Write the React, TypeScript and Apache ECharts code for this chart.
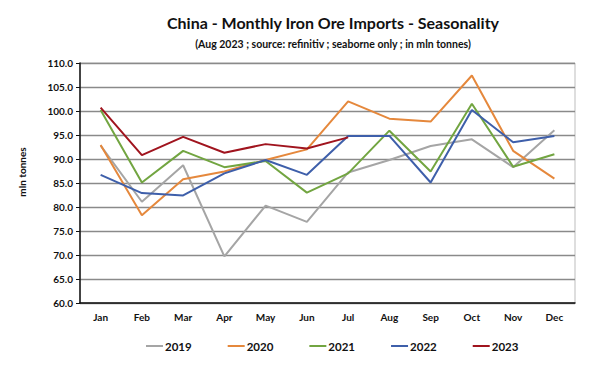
import React, { useEffect, useRef } from "react";
import * as echarts from "echarts";

const months = ["Jan", "Feb", "Mar", "Apr", "May", "Jun", "Jul", "Aug", "Sep", "Oct", "Nov", "Dec"];
const y2019 = [92.8, 81.1, 88.7, 69.7, 80.3, 76.9, 87.2, 89.8, 92.7, 94.1, 88.3, 96.0];
const y2020 = [92.9, 78.3, 85.8, 87.4, 89.8, 92.0, 102.0, 98.4, 97.8, 107.4, 91.7, 85.9];
const y2021 = [100.2, 85.1, 91.7, 88.3, 89.6, 83.0, 87.0, 95.9, 87.4, 101.5, 88.4, 91.0];
const y2022 = [86.7, 82.9, 82.4, 87.0, 89.8, 86.7, 94.8, 94.8, 85.1, 100.2, 93.5, 94.8];
const y2023 = [100.7, 90.8, 94.6, 91.3, 93.1, 92.2, 94.5];
const seriesNames = ["2019", "2020", "2021", "2022", "2023"];
const colors = ["#A5A5A5", "#E5883C", "#72A541", "#3E5FAA", "#A0141E"];

const FONT = "Lato";

export default function App() {
  const ref = useRef<HTMLDivElement>(null);
  useEffect(() => {
    if (!ref.current) return;
    const chart = echarts.init(ref.current, null, { renderer: "svg" });
    const data = [y2019, y2020, y2021, y2022, y2023];
    chart.setOption({
      animation: false,
      backgroundColor: "#fff",
      title: {
        text: "China - Monthly Iron Ore Imports - Seasonality",
        subtext: "(Aug 2023 ; source: refinitiv ; seaborne only ; in mln tonnes)",
        left: 328,
        textAlign: "center",
        top: 9,
        itemGap: 8,
        textStyle: { fontFamily: FONT, fontWeight: "bold", fontSize: 16, color: "#111" },
        subtextStyle: { fontFamily: FONT, fontWeight: "bold", fontSize: 10.5, color: "#111" },
      },
      grid: {
        left: 80,
        right: 25,
        top: 63,
        bottom: 66,
        show: true,
        borderColor: "#bdbdbd",
        borderWidth: 1,
      },
      legend: {
        bottom: 12,
        left: 141,
        icon: "rect",
        itemWidth: 17,
        itemHeight: 2,
        itemGap: 36,
        textStyle: { fontFamily: FONT, fontWeight: "bold", fontSize: 11.5, color: "#111", padding: [0, 0, 0, -3] },
        data: seriesNames,
      },
      xAxis: {
        type: "category",
        data: months,
        boundaryGap: true,
        axisLine: { lineStyle: { color: "#111", width: 1.5 } },
        axisTick: { show: false },
        axisLabel: { fontFamily: FONT, fontWeight: "bold", fontSize: 10, color: "#111", margin: 9 },
      },
      yAxis: {
        type: "value",
        min: 60,
        max: 110,
        interval: 5,
        axisLine: { show: true, lineStyle: { color: "#111", width: 1.5 } },
        axisTick: { show: true, length: 4, lineStyle: { color: "#111" } },
        axisLabel: {
          fontFamily: FONT,
          fontWeight: "bold",
          fontSize: 10,
          color: "#111",
          margin: 7,
          formatter: (v: number) => v.toFixed(1),
        },
        splitLine: { lineStyle: { color: "#8a8a8a", width: 1.4 } },
      },
      graphic: [
        {
          type: "text",
          x: 22,
          y: 172,
          rotation: Math.PI / 2,
          style: {
            text: "mln tonnes",
            fontFamily: FONT,
            fontWeight: "bold",
            fontSize: 10,
            fill: "#111",
            align: "center",
            verticalAlign: "middle",
          },
        },
      ],
      series: seriesNames.map((name, i) => ({
        name,
        type: "line",
        data: data[i],
        symbol: "none",
        lineStyle: { color: colors[i], width: 2 },
        itemStyle: { color: colors[i] },
        z: 2 + i,
      })),
    });
    return () => chart.dispose();
  }, []);
  return (
    <div
      ref={ref}
      style={{ position: "absolute", left: 0, top: 0, width: 600, height: 369 }}
    />
  );
}
